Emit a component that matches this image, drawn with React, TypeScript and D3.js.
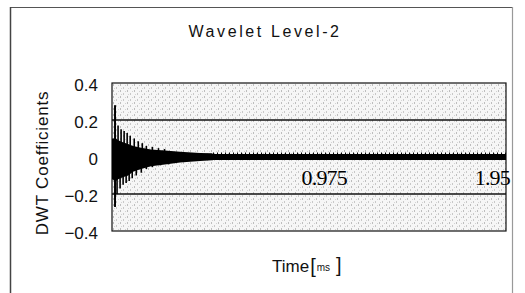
import React from "react";
import * as d3 from "d3";

const title = "Wavelet Level-2";
const yTicks = [0.4, 0.2, 0, -0.2, -0.4];
const gridValues = [0.2, -0.2];
const timeLabels = [
  { t: 0.975, text: "0.975" },
  { t: 1.95, text: "1.95" }
];

// dense part of the signal (envelope), time in ms
const bandTime = [0, 0.02, 0.03, 0.054, 0.08, 0.104, 0.144, 0.193, 0.262, 0.337, 0.436, 0.495, 0.5, 1.0, 1.5, 1.95];
const bandUpper = [0.1, 0.1, 0.09, 0.08, 0.07, 0.06, 0.05, 0.04, 0.035, 0.028, 0.022, 0.02, 0.016, 0.016, 0.016, 0.016];
const bandLower = [-0.12, -0.13, -0.12, -0.11, -0.1, -0.08, -0.065, -0.05, -0.04, -0.03, -0.022, -0.018, -0.016, -0.016, -0.016, -0.016];

// isolated peaks sticking out of the band
const spikeTime = [0.015, 0.03, 0.045, 0.06, 0.075, 0.09, 0.11, 0.13, 0.15, 0.17, 0.2, 0.23, 0.26];
const spikeUp = [0.28, 0.17, 0.15, 0.14, 0.13, 0.115, 0.1, 0.085, 0.075, 0.06, 0.055, 0.048, 0.043];
const spikeDownTime = [0.015, 0.025, 0.04, 0.055, 0.07, 0.085, 0.1, 0.12, 0.145, 0.17, 0.2, 0.24, 0.28];
const spikeDown = [-0.27, -0.2, -0.17, -0.15, -0.14, -0.13, -0.115, -0.1, -0.085, -0.065, -0.055, -0.045, -0.04];

const W = 525;
const H = 293;
const plot = { left: 112, right: 506, top: 83, bottom: 231 };

const sans = "'Liberation Sans', Arial, sans-serif";
const serif = "'Liberation Serif', 'Times New Roman', serif";

const App = () => {
  const x = d3.scaleLinear().domain([0, 1.95]).range([plot.left, plot.right]);
  const y = d3.scaleLinear().domain([-0.4, 0.4]).range([plot.bottom, plot.top]);

  const band = d3
    .area<number>()
    .x(i => x(bandTime[i]))
    .y0(i => y(bandLower[i]))
    .y1(i => y(bandUpper[i]));
  const bandPath = band(bandTime.map((_, i) => i)) || "";

  return (
    <svg
      width={W}
      height={H}
      style={{ position: "absolute", left: 0, top: 0, background: "#fff" }}
    >
      <defs>
        <pattern id="stipple" width="7" height="6" patternUnits="userSpaceOnUse">
          <rect width="7" height="6" fill="#f6f6f6" />
          <rect x="1" y="0" width="1" height="2" fill="#bdbdbd" />
          <rect x="4" y="3" width="1" height="2" fill="#c8c8c8" />
          <rect x="6" y="1" width="1" height="1" fill="#d2d2d2" />
          <rect x="2" y="4" width="1" height="1" fill="#d4d4d4" />
        </pattern>
      </defs>

      {/* outer frame */}
      <line x1={10} y1={7.5} x2={513} y2={7.5} stroke="#555" strokeWidth={1.2} />
      <line x1={10.5} y1={7} x2={10.5} y2={H} stroke="#444" strokeWidth={1.5} />
      <line x1={512.5} y1={7} x2={512.5} y2={H} stroke="#999" strokeWidth={1.2} />

      <text
        x={265}
        y={37}
        textAnchor="middle"
        fontFamily={sans}
        fontSize={16}
        letterSpacing={2.6}
        fill="#111"
      >
        {title}
      </text>

      {/* plot area */}
      <rect
        x={plot.left}
        y={plot.top}
        width={plot.right - plot.left}
        height={plot.bottom - plot.top}
        fill="url(#stipple)"
        stroke="#111"
        strokeWidth={1.2}
      />
      {gridValues.map(v => (
        <line
          key={v}
          x1={plot.left}
          x2={plot.right}
          y1={y(v)}
          y2={y(v)}
          stroke="#111"
          strokeWidth={1.4}
        />
      ))}

      {/* signal */}
      <path d={bandPath} fill="#000" />
      <line
        x1={x(0.5)}
        x2={plot.right}
        y1={y(0.02)}
        y2={y(0.02)}
        stroke="#000"
        strokeWidth={1.5}
        strokeDasharray="1 3"
      />
      {spikeTime.map((t, i) => (
        <line
          key={"u" + i}
          x1={x(t)}
          x2={x(t)}
          y1={y(0)}
          y2={y(spikeUp[i])}
          stroke="#000"
          strokeWidth={i === 0 ? 2 : 1.6}
        />
      ))}
      {spikeDownTime.map((t, i) => (
        <line
          key={"d" + i}
          x1={x(t)}
          x2={x(t)}
          y1={y(0)}
          y2={y(spikeDown[i])}
          stroke="#000"
          strokeWidth={i === 0 ? 2 : 1.6}
        />
      ))}

      {/* y axis labels */}
      {yTicks.map(v => (
        <text
          key={v}
          x={98}
          y={y(v) + 8}
          textAnchor="end"
          fontFamily={sans}
          fontSize={17}
          fill="#111"
        >
          {v === 0 ? "0" : (v < 0 ? "\u2212" : "") + Math.abs(v).toFixed(1)}
        </text>
      ))}
      <text
        transform={`translate(48 ${163}) rotate(-90)`}
        textAnchor="middle"
        fontFamily={sans}
        fontSize={17}
        letterSpacing={0.8}
        fill="#111"
      >
        DWT Coefficients
      </text>

      {/* time labels drawn inside the plot */}
      {timeLabels.map((d, i) => (
        <text
          key={d.text}
          x={i === 0 ? x(d.t) + 38 : x(d.t) + 4}
          y={185}
          textAnchor="end"
          fontFamily={serif}
          fontSize={22}
          letterSpacing={-0.8}
          fill="#000"
        >
          {d.text}
        </text>
      ))}

      <text x={272} y={272} fontFamily={sans} fontSize={17} fill="#111">
        Time
        <tspan dx={1} fontSize={20} dy={1}>[</tspan>
        <tspan fontSize={10} dx={1} dy={-2}>ms</tspan>
        <tspan dx={6} fontSize={20} dy={1}>]</tspan>
      </text>
    </svg>
  );
};

export default App;
